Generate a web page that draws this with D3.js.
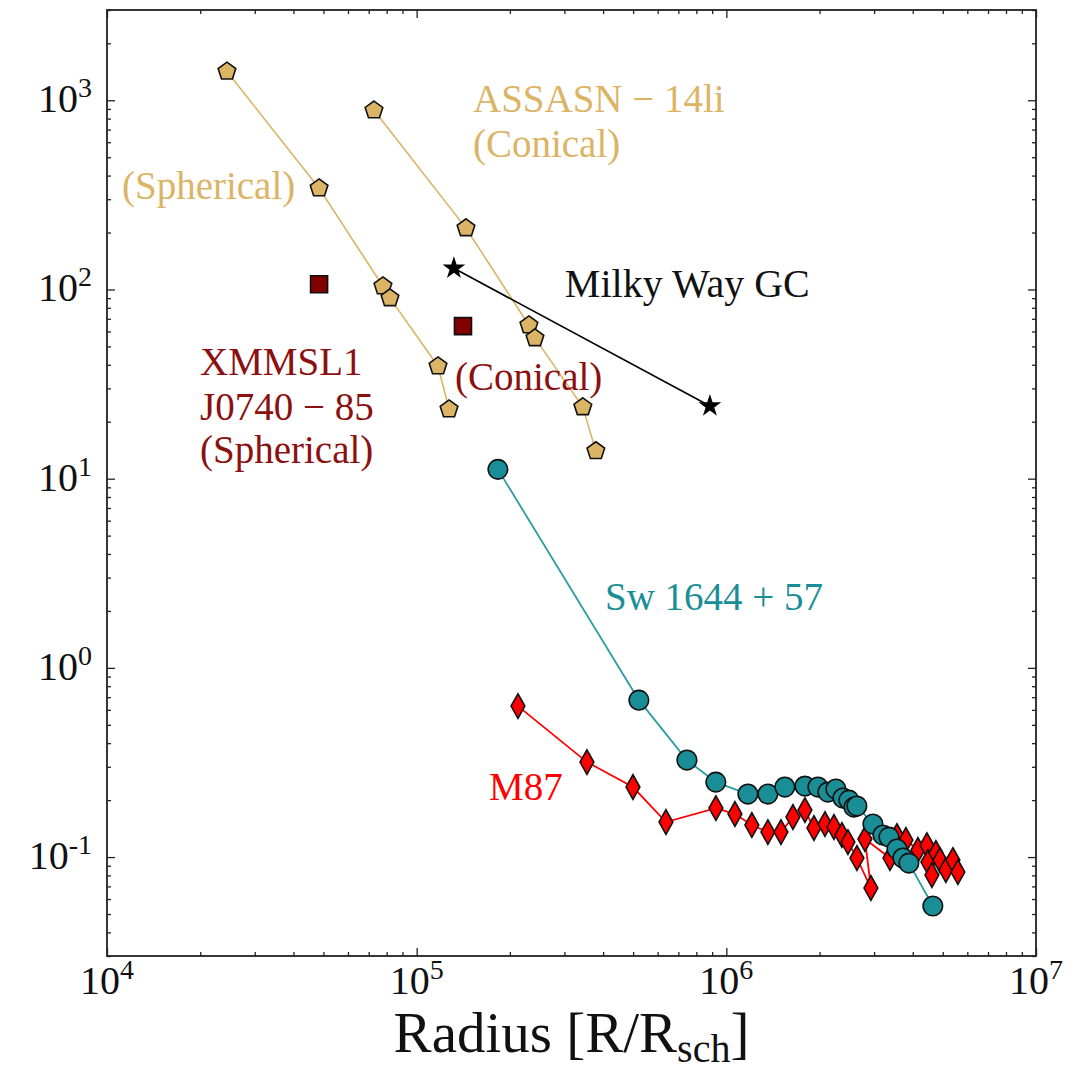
<!DOCTYPE html>
<html>
<head>
<meta charset="utf-8">
<script src="https://cdn.jsdelivr.net/npm/d3@7"></script>
<style>
  body { margin: 0; background: #fff; }
  svg text { font-family: "Liberation Serif", "Times New Roman", serif; }
</style>
</head>
<body>
<div id="chart"></div>
<script>
// values (radius in R/R_sch, y unlabelled)
const sphRadius = [24400, 48400, 77800, 82000, 117200, 127200];
const sphValue  = [1420, 343, 104, 90, 39.3, 23.3];

const conRadius = [72800, 144300, 230400, 241000, 344000, 379000];
const conValue  = [885, 211, 64.7, 55.3, 23.9, 14.0];

const xmmRadius = [48400, 141100];
const xmmValue  = [106.6, 64.0];

const mwRadius = [131900, 885000];
const mwValue  = [129.4, 24.2];

const swRadius = [183000, 522000, 746000, 925000, 1174000, 1362000, 1545000, 1794000, 1976000,
                  2128000, 2259000, 2380000, 2488000, 2583000, 2640000, 2975000, 3204000,
                  3350000, 3556000, 3717000, 3886000, 4645000];
const swValue  = [11.2, 0.675, 0.3255, 0.249, 0.2153, 0.2153, 0.2344, 0.2372, 0.2344,
                  0.2205, 0.2288, 0.205, 0.2, 0.1836, 0.186, 0.1494, 0.1307,
                  0.1275, 0.1102, 0.0988, 0.0929, 0.0551];

const m87Radius = [212400, 354700, 499400, 638300, 925400, 1066000, 1209000, 1362000, 1501000,
                   1641000, 1794000, 1918000, 2082000, 2226000, 2362000, 2470000, 2641000,
                   2930000, 2803000, 3376000, 3555000, 3801000, 4156000, 4443000, 4477000,
                   4612000, 4751000, 4894000, 5117000, 5390000, 5595000];
const m87Value  = [0.628, 0.3177, 0.2344, 0.1531, 0.1815, 0.1688, 0.1476, 0.1355, 0.1355,
                   0.1627, 0.1771, 0.1423, 0.1494, 0.1441, 0.1307, 0.12, 0.0988,
                   0.0686, 0.1245, 0.0988, 0.1291, 0.123, 0.1089, 0.1157, 0.0941,
                   0.0803, 0.105, 0.0964, 0.0854, 0.0964, 0.0833];

const xTicks = [1e4, 1e5, 1e6, 1e7];
const xTickExp = ["4", "5", "6", "7"];
const yTicks = [0.1, 1, 10, 100, 1000];
const yTickExp = ["-1", "0", "1", "2", "3"];

const gold = "#dbb466", teal = "#1a8e96", maroon = "#800000", red = "#ff0000";

const margin = { top: 10, left: 107, right: 50, bottom: 114 };
const W = 1086, H = 1070;
const width = W - margin.left - margin.right;
const height = H - margin.top - margin.bottom;

const svg = d3.select('#chart').append('svg')
    .attr('width', W)
    .attr('height', H);

const g = svg.append('g')
    .attr('transform', 'translate(' + margin.left + ',' + margin.top + ')');

const x = d3.scaleLog().domain([1e4, 1e7]).range([0, width]);
const y = d3.scaleLog().domain([0.03, 3000]).range([height, 0]);

// minor ticks 2..9 of every decade inside the domain
function minors(dom) {
  const out = [];
  for (let e = -3; e <= 8; e++) {
    for (let k = 2; k <= 9; k++) {
      const v = k * Math.pow(10, e);
      if (v >= dom[0] * 0.9999 && v <= dom[1] * 1.0001) out.push(v);
    }
  }
  return out;
}

const tickColor = "#222";

function drawAxis(axis, transform) {
  const a = g.append('g').attr('transform', transform).call(axis);
  a.select('.domain').remove();
  a.selectAll('.tick line').attr('stroke', tickColor).attr('stroke-width', 1.3);
  return a;
}

// inward ticks on all four sides
drawAxis(d3.axisBottom(x).tickValues(xTicks).tickSize(-8).tickFormat(''), 'translate(0,' + height + ')');
drawAxis(d3.axisBottom(x).tickValues(minors(x.domain())).tickSize(-4).tickFormat(''), 'translate(0,' + height + ')');
drawAxis(d3.axisTop(x).tickValues(xTicks).tickSize(-8).tickFormat(''), 'translate(0,0)');
drawAxis(d3.axisTop(x).tickValues(minors(x.domain())).tickSize(-4).tickFormat(''), 'translate(0,0)');
drawAxis(d3.axisLeft(y).tickValues(yTicks).tickSize(-8).tickFormat(''), 'translate(0,0)');
drawAxis(d3.axisLeft(y).tickValues(minors(y.domain())).tickSize(-4).tickFormat(''), 'translate(0,0)');
drawAxis(d3.axisRight(y).tickValues(yTicks).tickSize(-8).tickFormat(''), 'translate(' + width + ',0)');
drawAxis(d3.axisRight(y).tickValues(minors(y.domain())).tickSize(-4).tickFormat(''), 'translate(' + width + ',0)');

// tick labels as 10 with superscript exponent
function powLabel(sel, exp) {
  sel.append('tspan').text('10');
  sel.append('tspan').attr('dy', -15).attr('font-size', 28).text(exp);
}

g.selectAll('.xlab')
  .data(xTicks)
  .enter()
  .append('text')
  .attr('class', 'xlab')
  .attr('x', d => x(d))
  .attr('y', height + 38)
  .attr('text-anchor', 'middle')
  .attr('font-size', 40)
  .attr('fill', '#111')
  .each(function(d, i) { powLabel(d3.select(this), xTickExp[i]); });

g.selectAll('.ylab')
  .data(yTicks)
  .enter()
  .append('text')
  .attr('class', 'ylab')
  .attr('x', -15)
  .attr('y', d => y(d) + 12)
  .attr('text-anchor', 'end')
  .attr('font-size', 40)
  .attr('fill', '#111')
  .each(function(d, i) { powLabel(d3.select(this), yTickExp[i]); });

// x axis title
const xt = svg.append('text')
  .attr('x', margin.left + width / 2)
  .attr('y', 1052)
  .attr('text-anchor', 'middle')
  .attr('font-size', 57)
  .attr('fill', '#111');
xt.append('tspan').text('Radius [R/R');
xt.append('tspan').attr('dy', 10).attr('font-size', 40).text('sch');
xt.append('tspan').attr('dy', -10).text(']');

// markers
const pentagon = {
  draw: function(ctx, size) {
    const r = Math.sqrt(size / 2.378);
    for (let i = 0; i < 5; i++) {
      const a = -Math.PI / 2 + i * 2 * Math.PI / 5;
      if (i === 0) ctx.moveTo(r * Math.cos(a), r * Math.sin(a));
      else ctx.lineTo(r * Math.cos(a), r * Math.sin(a));
    }
    ctx.closePath();
  }
};
const thinDiamond = {
  draw: function(ctx, size) {
    const h = Math.sqrt(size / 0.56) / 2, w = h * 0.56;
    ctx.moveTo(0, -h);
    ctx.lineTo(w, 0);
    ctx.lineTo(0, h);
    ctx.lineTo(-w, 0);
    ctx.closePath();
  }
};

const series = [
  { r: sphRadius, v: sphValue, line: gold, fill: gold, lw: 1.6, sym: pentagon, size: 205 },
  { r: conRadius, v: conValue, line: gold, fill: gold, lw: 1.6, sym: pentagon, size: 205 },
  { r: xmmRadius, v: xmmValue, line: null, fill: maroon, lw: 0, sym: d3.symbolSquare, size: 290 },
  { r: mwRadius, v: mwValue, line: '#000', fill: '#000', lw: 1.6, sym: d3.symbolStar, size: 160 },
  { r: m87Radius, v: m87Value, line: red, fill: red, lw: 1.8, sym: thinDiamond, size: 340 },
  { r: swRadius, v: swValue, line: '#2a9ca3', fill: teal, lw: 1.8, sym: d3.symbolCircle, size: 300 }
];

const lineGen = d3.line().x(d => x(d[0])).y(d => y(d[1]));

series.forEach(s => {
  const pts = s.r.map((r, i) => [r, s.v[i]]);
  if (s.line) {
    g.append('path')
      .datum(pts)
      .attr('d', lineGen)
      .attr('fill', 'none')
      .attr('stroke', s.line)
      .attr('stroke-width', s.lw);
  }
  g.append('g').selectAll('path')
    .data(pts)
    .enter()
    .append('path')
    .attr('transform', d => 'translate(' + x(d[0]) + ',' + y(d[1]) + ')')
    .attr('d', d3.symbol().type(s.sym).size(s.size))
    .attr('fill', s.fill)
    .attr('stroke', '#111')
    .attr('stroke-width', s.sym === d3.symbolStar ? 0 : 1.6);
});

// annotations (anchored in data coordinates)
const notes = [
  { t: 'ASSASN \u2212 14li', r: 152000, v: 864, c: gold },
  { t: '(Conical)', r: 152000, v: 500, c: gold },
  { t: '(Spherical)', r: 11180, v: 300, c: gold },
  { t: 'Milky Way GC', r: 301000, v: 91, c: '#111', fs: 40 },
  { t: 'XMMSL1', r: 19970, v: 35.2, c: '#8b1010' },
  { t: 'J0740 \u2212 85', r: 19970, v: 20.4, c: '#8b1010' },
  { t: '(Spherical)', r: 19970, v: 12.1, c: '#8b1010' },
  { t: '(Conical)', r: 133000, v: 29.4, c: '#8b1010' },
  { t: 'Sw 1644 + 57', r: 405500, v: 2.02, c: teal },
  { t: 'M87', r: 171200, v: 0.2, c: red }
];

g.selectAll('.note')
  .data(notes)
  .enter()
  .append('text')
  .attr('class', 'note')
  .attr('x', d => x(d.r))
  .attr('y', d => y(d.v))
  .attr('font-size', d => d.fs || 39)
  .attr('fill', d => d.c)
  .text(d => d.t);

// frame
g.append('rect')
  .attr('width', width)
  .attr('height', height)
  .attr('fill', 'none')
  .attr('stroke', tickColor)
  .attr('stroke-width', 1.8);
</script>
</body>
</html>
